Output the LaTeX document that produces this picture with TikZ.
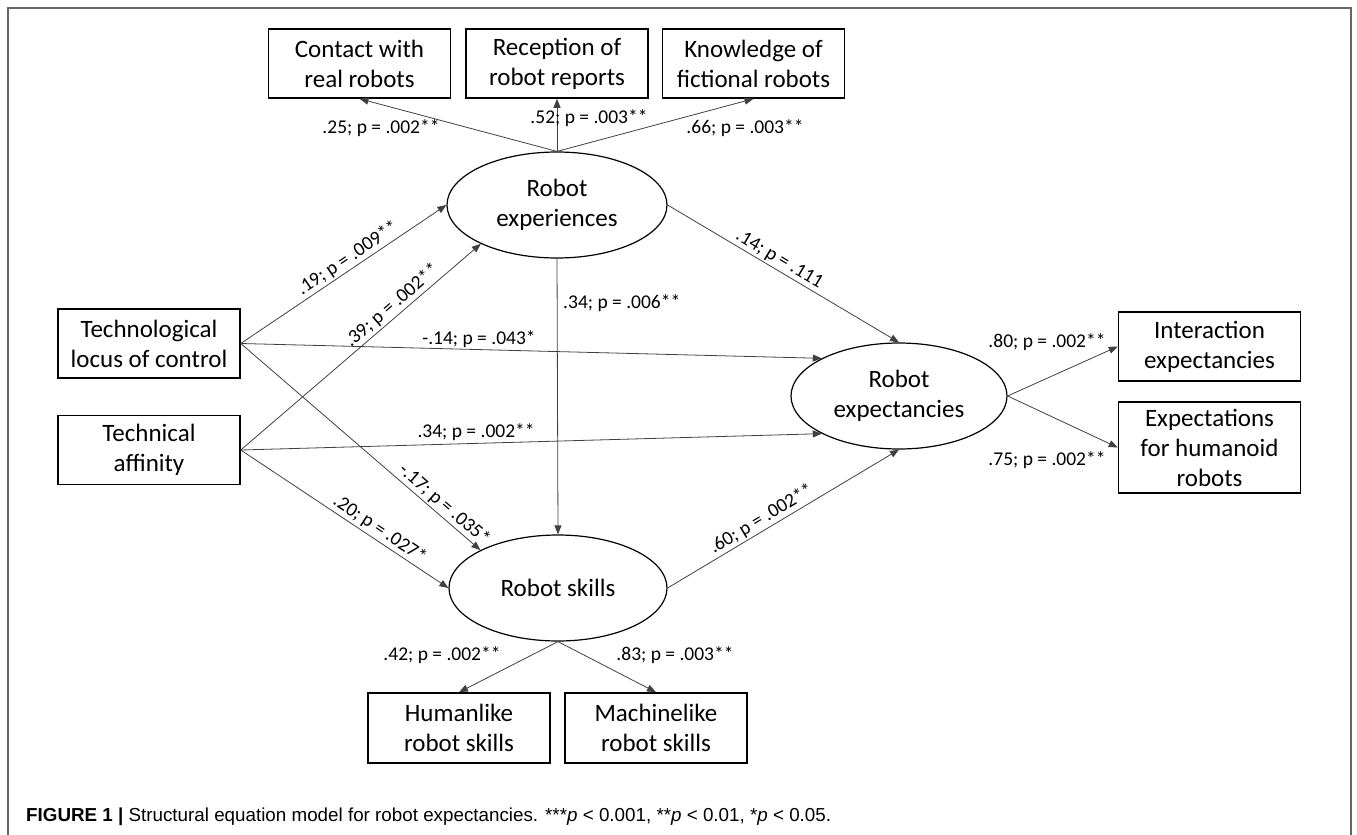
\documentclass[tikz,border=0pt]{standalone}
\usepackage{fontspec}
\setmainfont{Carlito}
\newfontfamily\capfont{Liberation Sans}
\usetikzlibrary{arrows.meta,shapes.geometric}
\tikzset{
  box/.style={draw, line width=1.5pt, align=center, font=\fontsize{25}{30}\selectfont,
    inner sep=0pt, minimum width=182pt, minimum height=69pt},
  lat/.style={ellipse, draw, line width=1.2pt, align=center, font=\fontsize{25}{30}\selectfont,
    inner sep=0pt, minimum width=218pt, minimum height=106pt},
  conn/.style={draw=black!75, line width=0.8pt, -{Triangle[length=9pt,width=7pt]}},
  lab/.style={font=\fontsize{19.5}{23}\selectfont, inner sep=2pt},
  frame/.style={draw=black!60, line width=1.5pt},
}
\begin{document}
\begin{tikzpicture}[x=1pt,y=-1pt]
\useasboundingbox (0,0) rectangle (1357,835);
\draw[frame] (8,840) -- (8,8) -- (1351,8) -- (1351,840);

% indicator boxes
\node[box] (c1) at (359.5,63.5) {Contact with\\real robots};
\node[box] (c2) at (557,63.5) {Reception of\\robot reports};
\node[box] (c3) at (753.5,63.5) {Knowledge of\\fictional robots};
\node[box] (tlc) at (149,343.5) {Technological\\locus of control};
\node[box] (ta) at (149,450) {Technical\\affinity};
\node[box] (ie) at (1209.5,346.5) {Interaction\\expectancies};
\node[box, minimum height=91pt] (eh) at (1209.5,447.5) {Expectations\\for humanoid\\robots};
\node[box, minimum height=70pt] (hl) at (459,728) {Humanlike\\robot skills};
\node[box, minimum height=70pt] (ml) at (656,728) {Machinelike\\robot skills};

% latent variables
\node[lat, minimum width=220pt] (re) at (557,205) {Robot\\experiences};
\node[lat, minimum width=216pt] (rx) at (899,396) {Robot\\expectancies};
\node[lat] (rs) at (558,588) {Robot skills};

% measurement paths
\draw[conn] (re.north) -- (c1.south);
\draw[conn] (re.north) -- (c2.south);
\draw[conn] (re.north) -- (c3.south);
\node[lab] (l1) at (381,128) {.25; p = .002**};
\node[lab] (l2) at (589,118) {.52; p = .003**};
\node[lab] (l3) at (745,128) {.66; p = .003**};

\draw[conn] (rx.east) -- (ie.west);
\draw[conn] (rx.east) -- (eh.west);
\node[lab] (l4) at (1047,342) {.80; p = .002**};
\node[lab] (l5) at (1047,460) {.75; p = .002**};

\draw[conn] (rs.south) -- (hl.north);
\draw[conn] (rs.south) -- (ml.north);
\node[lab] (l6) at (442,655) {.42; p = .002**};
\node[lab] (l7) at (675,655) {.83; p = .003**};

% structural paths
\draw[conn] (tlc.east) -- node[lab, sloped, above, pos=0.55] {.19; p = .009**} (re.west);
\draw[conn] (ta.east) -- node[lab, sloped, above, pos=0.66] {.39; p = .002**} (re.207);
\draw[conn] (tlc.east) -- node[lab, above, pos=0.41] {-.14; p = .043*} (rx.154);
\draw[conn] (ta.east) -- node[lab, above, pos=0.405] {.34; p = .002**} (rx.206);
\draw[conn] (tlc.east) -- node[lab, sloped, above, pos=0.82] {-.17; p = .035*} (rs.154);
\draw[conn] (ta.east) -- node[lab, sloped, above, pos=0.64] {.20; p = .027*} (rs.west);
\draw[conn] (re.south) -- (rs.north);
\node[lab, anchor=west] (l8) at (561,303) {.34; p = .006**};
\draw[conn] (re.east) -- node[lab, sloped, above, pos=0.46] {.14; p = .111} (rx.north);
\draw[conn] (rs.east) -- node[lab, sloped, above, pos=0.43] {.60; p = .002**} (rx.south);

% caption
\node[anchor=base west, inner sep=0pt, font=\capfont\fontsize{18.8}{22}\selectfont] (cap) at (26,821)
  {\textbf{FIGURE 1 |} Structural equation model for robot expectancies. ***\textit{p} < 0.001, **\textit{p} < 0.01, *\textit{p} < 0.05.};
\end{tikzpicture}
\end{document}
